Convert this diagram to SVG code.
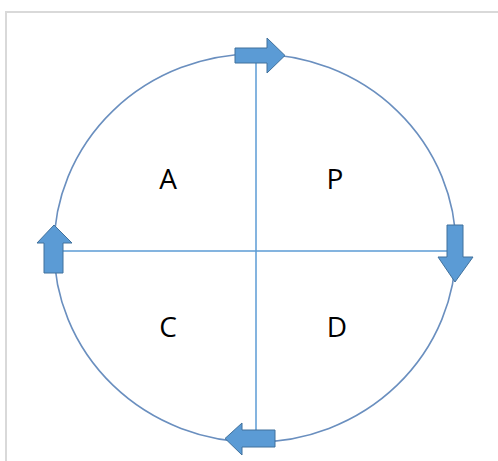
<svg xmlns="http://www.w3.org/2000/svg" width="498" height="461" viewBox="0 0 498 461">
  <style>
    .frame { fill: none; stroke: #d9d9d9; stroke-width: 2; }
    .ring { fill: none; stroke: #6a8fbf; stroke-width: 1.6; }
    .axis { fill: none; stroke: #5b9bd5; stroke-width: 1.5; }
    .arrow { fill: #5b9bd5; stroke: #41719c; stroke-width: 1; }
    .lbl { font-family: "Open Sans", "Liberation Sans", sans-serif; font-size: 28px; fill: #000; text-anchor: middle; }
  </style>
  <rect width="498" height="461" fill="#ffffff"/>
  <path class="frame" d="M6,461 V12 H498"/>
  <g id="cycle">
    <ellipse class="ring" cx="255" cy="248" rx="201" ry="194"/>
  </g>
  <g id="axes">
    <line class="axis" x1="256" y1="55" x2="256" y2="441"/>
    <line class="axis" x1="55" y1="251" x2="455" y2="251"/>
  </g>
  <g id="node-A"><text class="lbl" x="168" y="189">A</text></g>
  <g id="node-P"><text class="lbl" x="335" y="189">P</text></g>
  <g id="node-C"><text class="lbl" x="168" y="337">C</text></g>
  <g id="node-D"><text class="lbl" x="337" y="337">D</text></g>
  <g id="connectors">
    <path class="arrow" d="M235,48 H267 V38 L285,55.5 L267,73 V63 H235 Z"/>
    <path class="arrow" d="M447,225 H463 V257 H473 L455,282 L438,257 H447 Z"/>
    <path class="arrow" d="M275,430 H242 V423 L225,438.5 L242,455 V447 H275 Z"/>
    <path class="arrow" d="M44,273 H63 V243 H72 L54,225 L37,243 H44 Z"/>
  </g>
</svg>
